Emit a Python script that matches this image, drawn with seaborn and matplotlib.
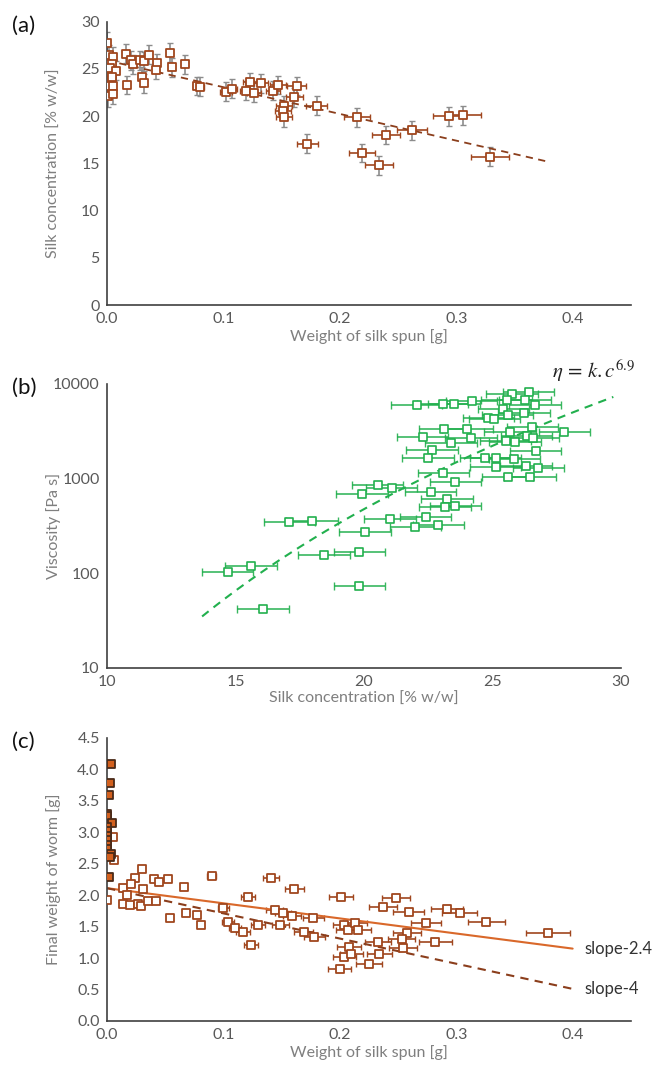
import numpy as np
import matplotlib
matplotlib.use("Agg")
import matplotlib.pyplot as plt
import seaborn as sns
from matplotlib.ticker import FixedLocator, FuncFormatter, NullLocator

# ---- (a) silk concentration vs weight of silk spun ----
a_weight = [0.000, 0.002, 0.005, 0.000, 0.004, 0.003, 0.008, 0.004, 0.000, 0.005,
            0.001, 0.005, 0.017, 0.016, 0.021, 0.022, 0.028, 0.032, 0.036, 0.030,
            0.032, 0.043, 0.042, 0.054, 0.056, 0.067, 0.077, 0.080, 0.102, 0.107,
            0.119, 0.123, 0.126, 0.132, 0.143, 0.147, 0.152, 0.151, 0.152, 0.161,
            0.163, 0.180, 0.172, 0.215, 0.240, 0.262, 0.219, 0.234, 0.294, 0.306,
            0.329]
a_conc = [27.8, 26.5, 26.3, 25.5, 25.5, 25.1, 24.8, 24.2, 23.2, 23.2,
          22.1, 22.3, 23.3, 26.6, 25.9, 25.5, 25.9, 25.8, 26.5, 24.2,
          23.5, 25.6, 24.9, 26.7, 25.2, 25.5, 23.2, 23.1, 22.6, 22.9,
          22.7, 23.6, 22.5, 23.5, 22.7, 23.3, 21.1, 20.6, 19.9, 22.0,
          23.2, 21.1, 17.1, 19.9, 18.0, 18.5, 16.1, 14.8, 20.0, 20.1,
          15.7]
a_weight_err = [0, 0, 0, 0, 0, 0, 0, 0, 0, 0,
                0, 0, 0, 0, 0, 0, 0, 0, 0, 0,
                0, 0, 0, 0, 0, 0, 0.003, 0.003, 0.005, 0.005,
                0.005, 0.006, 0.006, 0.006, 0.006, 0.007, 0.007, 0.007, 0.007, 0.007,
                0.008, 0.009, 0.009, 0.011, 0.012, 0.013, 0.011, 0.012, 0.014, 0.015,
                0.016]
a_conc_err = [1.1, 1.0, 1.0, 1.1, 1.0, 1.0, 1.0, 1.1, 1.1, 1.0,
              1.1, 1.0, 1.0, 1.0, 1.0, 1.0, 1.0, 1.0, 1.0, 1.0,
              1.0, 1.0, 1.0, 1.0, 1.0, 1.0, 1.0, 1.0, 1.0, 1.0,
              1.0, 1.0, 1.0, 1.0, 1.0, 1.0, 1.0, 1.0, 1.0, 1.0,
              1.0, 1.0, 1.0, 1.0, 1.0, 1.0, 1.0, 1.0, 1.0, 1.0,
              1.0]
a_fit = {"intercept": 25.9, "slope": -28.3, "xmin": 0.0, "xmax": 0.38}

# ---- (b) viscosity vs silk concentration ----
b_conc = [22.05, 23.06, 23.50, 24.19, 23.12, 24.02, 22.28, 23.39, 24.16, 22.65,
          22.49, 23.09, 23.55, 20.53, 21.08, 19.92, 22.59, 23.23, 23.15, 23.55,
          22.40, 21.01, 22.00, 22.89, 20.04, 17.09, 17.98, 18.44, 19.82, 15.60,
          14.70, 19.82, 16.07,
          25.75, 26.41, 25.55, 26.26, 26.65, 25.42, 25.59, 26.23, 24.84, 25.07,
          25.68, 26.55, 27.79, 25.51, 25.87, 26.33, 26.59, 26.68, 24.72, 25.12,
          25.85, 25.12, 26.30, 26.78, 25.59, 26.46]
b_visc = [5985, 6140, 6100, 6650, 3310, 3340, 2750, 2360, 2660, 2000,
          1660, 1140, 920, 850, 790, 683, 722, 613, 505, 517,
          396, 372, 311, 324, 275, 351, 357, 156, 169, 120,
          103, 74, 42,
          7770, 8150, 6760, 6760, 5990, 5430, 4700, 4890, 4390, 4260,
          3080, 3480, 3080, 2510, 2450, 2820, 2660, 1940, 1660, 1660,
          1600, 1315, 1360, 1285, 1032, 1048]
b_conc_err = 1.0
b_fit = {"c0": 13.7, "eta0": 35.0, "exponent": 6.9, "cmax": 29.7}

# ---- (c) final weight of worm vs weight of silk spun ----
c_filled_weight = [0.0035, 0.0026, 0.0017, 0.0, 0.0003, 0.004, 0.0, 0.0, 0.0003, 0.0,
                   0.0003, 0.0, 0.0035, 0.0026, 0.0017]
c_filled_final = [4.08, 3.78, 3.59, 3.29, 3.25, 3.15, 3.08, 3.02, 2.94, 2.88,
                  2.79, 2.73, 2.66, 2.60, 2.28]
c_open_weight = [0.0054, 0.0063, 0.0, 0.030, 0.024, 0.040, 0.045, 0.052, 0.014, 0.021,
                 0.031, 0.014, 0.020, 0.017, 0.027, 0.029, 0.035, 0.042, 0.066, 0.090,
                 0.068, 0.077, 0.054, 0.081, 0.100, 0.104, 0.110, 0.117, 0.121, 0.124,
                 0.130, 0.141, 0.144, 0.149, 0.151, 0.159, 0.161, 0.169, 0.177, 0.178,
                 0.201, 0.204, 0.204, 0.200, 0.207, 0.208, 0.248, 0.237, 0.259, 0.292,
                 0.303, 0.274, 0.326, 0.379, 0.213, 0.216, 0.233, 0.258, 0.253, 0.282,
                 0.254, 0.234, 0.210, 0.225]
c_open_final = [2.92, 2.56, 1.92, 2.41, 2.27, 2.25, 2.21, 2.26, 2.12, 2.18,
                2.09, 1.86, 1.85, 2.00, 1.86, 1.83, 1.91, 1.90, 2.13, 2.30,
                1.72, 1.68, 1.64, 1.52, 1.79, 1.57, 1.48, 1.41, 1.97, 1.20,
                1.52, 2.27, 1.76, 1.52, 1.71, 1.67, 2.10, 1.41, 1.64, 1.33,
                1.97, 1.53, 1.01, 0.82, 1.44, 1.17, 1.96, 1.81, 1.73, 1.78,
                1.72, 1.56, 1.58, 1.40, 1.56, 1.45, 1.25, 1.40, 1.31, 1.26,
                1.16, 1.07, 1.06, 0.90]
c_open_err = [0, 0, 0, 0, 0, 0, 0, 0, 0, 0,
              0, 0, 0, 0, 0, 0, 0, 0, 0, 0.004,
              0, 0, 0, 0, 0.005, 0.005, 0.005, 0.006, 0.006, 0.006,
              0.006, 0.007, 0.007, 0.007, 0.007, 0.008, 0.008, 0.008, 0.009, 0.009,
              0.010, 0.010, 0.010, 0.010, 0.010, 0.010, 0.012, 0.012, 0.013, 0.014,
              0.015, 0.013, 0.016, 0.019, 0.010, 0.011, 0.011, 0.012, 0.012, 0.014,
              0.012, 0.011, 0.010, 0.011]
c_lines = [
    {"label": "slope-2.4", "intercept": 2.11, "slope": -2.4, "style": "solid"},
    {"label": "slope-4", "intercept": 2.11, "slope": -4.0, "style": "dashed"},
]
c_line_range = [0.0, 0.40]

# ---- style ----
sns.set_style("white")
plt.rcParams["font.family"] = ["Lato", "DejaVu Sans"]
plt.rcParams["mathtext.fontset"] = "stix"

BROWN = "#A0461E"
BROWN_DARK = "#8B3E1C"
GRAY_ERR = "#8C8C8C"
GREEN = "#22B04E"
ORANGE_FILL = "#D2601E"
ORANGE_LINE = "#D9682A"
AXIS_COL = "#404040"
LABEL_COL = "#7F7F7F"
TICK_COL = "#595959"

fig = plt.figure(figsize=(6.54, 10.77), dpi=100)
ax_a = fig.add_axes([0.1636, 0.7168, 0.801, 0.263])
ax_b = fig.add_axes([0.1636, 0.3798, 0.786, 0.2637])
ax_c = fig.add_axes([0.1636, 0.0520, 0.801, 0.263])


def style_axes(ax):
    sns.despine(ax=ax)
    for side in ("left", "bottom"):
        ax.spines[side].set_color(AXIS_COL)
        ax.spines[side].set_linewidth(1.2)
    ax.tick_params(direction="inout", length=4.5, width=1, color=AXIS_COL,
                   labelcolor=TICK_COL, labelsize=11.5, pad=3)
    ax.xaxis.label.set_color(LABEL_COL)
    ax.yaxis.label.set_color(LABEL_COL)
    ax.xaxis.label.set_size(11.5)
    ax.yaxis.label.set_size(11.5)
    ax.yaxis.set_label_coords(-46 / (ax.get_position().width * 654), 0.5)


# ---- panel (a) ----
ax = ax_a
ax.errorbar(a_weight, a_conc, yerr=a_conc_err, fmt="none", ecolor=GRAY_ERR,
            elinewidth=1.2, capsize=2.5, zorder=1)
xe = np.array(a_weight_err)
m = xe > 0
ax.errorbar(np.array(a_weight)[m], np.array(a_conc)[m], xerr=xe[m], fmt="none",
            ecolor=BROWN, elinewidth=1.2, capsize=2.5, zorder=1)
fx = np.array([a_fit["xmin"], a_fit["xmax"]])
sns.lineplot(x=fx, y=a_fit["intercept"] + a_fit["slope"] * fx, ax=ax,
             color=BROWN_DARK, linewidth=1.3, linestyle=(0, (4, 3)), zorder=2)
sns.scatterplot(x=a_weight, y=a_conc, marker="s", s=38, color="white",
                edgecolor=BROWN, linewidth=1.3, ax=ax, zorder=3)
ax.set_xlim(0, 0.45)
ax.set_ylim(0, 30)
ax.xaxis.set_major_locator(FixedLocator([0.0, 0.1, 0.2, 0.3, 0.4]))
ax.xaxis.set_major_formatter(FuncFormatter(lambda v, p: f"{v:.1f}"))
ax.yaxis.set_major_locator(FixedLocator(range(0, 31, 5)))
ax.set_xlabel("Weight of silk spun [g]", labelpad=2)
ax.set_ylabel("Silk concentration [% w/w]")
style_axes(ax)

# ---- panel (b) ----
ax = ax_b
ax.errorbar(b_conc, b_visc, xerr=b_conc_err, fmt="none", ecolor=GREEN,
            elinewidth=1.2, capsize=2.6, zorder=1, alpha=0.9)
cc = np.linspace(b_fit["c0"], b_fit["cmax"], 60)
k = b_fit["eta0"] / b_fit["c0"] ** b_fit["exponent"]
sns.lineplot(x=cc, y=k * cc ** b_fit["exponent"], ax=ax, color=GREEN,
             linewidth=1.5, linestyle=(0, (4, 3)), zorder=2)
sns.scatterplot(x=b_conc, y=b_visc, marker="s", s=30, color="white",
                edgecolor=GREEN, linewidth=1.2, ax=ax, zorder=3)
ax.set_yscale("log")
ax.set_xlim(10, 30)
ax.set_ylim(10, 10000)
ax.xaxis.set_major_locator(FixedLocator([10, 15, 20, 25, 30]))
ax.yaxis.set_major_locator(FixedLocator([10, 100, 1000, 10000]))
ax.yaxis.set_major_formatter(FuncFormatter(lambda v, p: f"{v:.0f}"))
ax.yaxis.set_minor_locator(NullLocator())
ax.set_xlabel("Silk concentration [% w/w]", labelpad=2)
ax.set_ylabel("Viscosity [Pa s]")
ax.text(0.865, 1.045, r"$\eta\,=\,k.c^{6.9}$", transform=ax.transAxes,
        fontsize=15, color="#222222", ha="left", va="center", clip_on=False)
style_axes(ax)

# ---- panel (c) ----
ax = ax_c
ce = np.array(c_open_err)
m = ce > 0
ax.errorbar(np.array(c_open_weight)[m], np.array(c_open_final)[m], xerr=ce[m],
            fmt="none", ecolor=BROWN, elinewidth=1.2, capsize=2.5, zorder=1)
lx = np.array(c_line_range)
for ln in c_lines:
    ls = "-" if ln["style"] == "solid" else (0, (4, 3))
    col = ORANGE_LINE if ln["style"] == "solid" else BROWN_DARK
    ly = ln["intercept"] + ln["slope"] * lx
    sns.lineplot(x=lx, y=ly, ax=ax, color=col, linewidth=1.5, linestyle=ls, zorder=2)
    ax.text(lx[-1] + 0.01, ly[-1], ln["label"], fontsize=12, color="#333333",
            ha="left", va="center")
sns.scatterplot(x=c_open_weight, y=c_open_final, marker="s", s=38, color="white",
                edgecolor=BROWN, linewidth=1.3, ax=ax, zorder=3)
sns.scatterplot(x=c_filled_weight, y=c_filled_final, marker="s", s=38,
                color=ORANGE_FILL, edgecolor="#4A2A18", linewidth=1.3, ax=ax, zorder=4)
ax.set_xlim(0, 0.45)
ax.set_ylim(0, 4.5)
ax.xaxis.set_major_locator(FixedLocator([0.0, 0.1, 0.2, 0.3, 0.4]))
ax.xaxis.set_major_formatter(FuncFormatter(lambda v, p: f"{v:.1f}"))
ax.yaxis.set_major_locator(FixedLocator(np.arange(0, 4.51, 0.5)))
ax.yaxis.set_major_formatter(FuncFormatter(lambda v, p: f"{v:.1f}"))
ax.set_xlabel("Weight of silk spun [g]", labelpad=2)
ax.set_ylabel("Final weight of worm [g]")
style_axes(ax)

# panel letters
for lab, ypix in (("(a)", 26), ("(b)", 388), ("(c)", 742)):
    fig.text(12 / 654, 1 - ypix / 1077, lab, fontsize=16, color="#111111",
             ha="left", va="center")

fig.savefig("out.png", dpi=100)
